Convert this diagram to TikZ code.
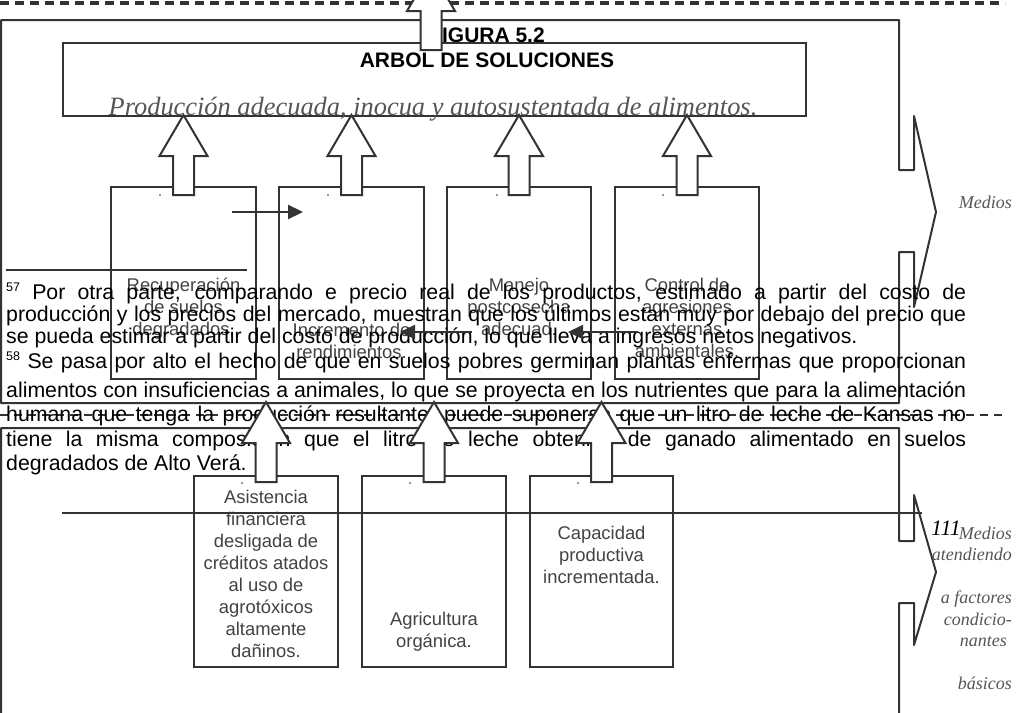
\documentclass[tikz,border=0pt]{standalone}
\usepackage{fontspec}
\setmainfont{Liberation Sans}
\newfontfamily\serifit{Liberation Serif}
\usetikzlibrary{arrows.meta}
\definecolor{ln}{RGB}{51,51,51}
\definecolor{tx}{RGB}{66,66,66}
\definecolor{it}{RGB}{85,85,85}
\newcommand\jl[1]{\hbox to 960pt{#1}}
\newcommand\ctx[1]{\vtop{\baselineskip=22pt\halign{\hfil##\hfil\cr#1\crcr}}}
\newcommand\fnm[1]{{\fontsize{12.5}{12}\selectfont\raisebox{7.5pt}{#1}}}
\begin{document}
\begin{tikzpicture}[x=1pt,y=-1pt,
  frame/.style={draw=ln,line width=2pt,line join=round},
  box/.style={draw=ln,line width=2pt,inner sep=0pt},
  boxtext/.style={text=tx,font=\fontsize{18.4}{22}\selectfont,anchor=base,inner sep=0pt},
  dashline/.style={draw=ln,line width=3.5pt,dash pattern=on 9pt off 6pt},
  harrow/.style={draw=ln,line width=2.2pt,-{Triangle[length=15pt,width=14pt]}},
  blk/.style={draw=ln,line width=2pt,fill=white,line join=miter},
  fn/.style={anchor=base west,inner sep=0pt,font=\fontsize{21.3}{24.4}\selectfont},
  side/.style={text=it,font=\serifit\itshape\fontsize{18}{21.5}\selectfont,inner sep=0pt},
  dotm/.style={fill=ln,circle,inner sep=0pt,minimum size=1.6pt},
  pics/uparrow/.style={code={\path[blk] (-10.5,0) -- (-10.5,-39) -- (-24,-39) -- (0,-80) -- (24,-39) -- (10.5,-39) -- (10.5,0) -- cycle;}}
]
\useasboundingbox (0,0) rectangle (1025,712);
\clip (0,0) rectangle (1025,712);

% page-break dashed lines
\draw[dashline] (0,3) -- (1005,3);
\draw[dashline,line width=2.6pt,dash pattern=on 8pt off 6pt] (0,415) -- (1005,415);

% frames with braces
\draw[frame] (1,403) -- (1,20) -- (899,20) -- (899,170) -- (914,170) -- (914,116) -- (936,212) -- (914,307) -- (914,252) -- (899,252) -- (899,403) -- cycle;
\draw[frame] (1,720) -- (1,428) -- (899,428) -- (899,541) -- (914,541) -- (914,495) -- (936,572) -- (914,645) -- (914,603) -- (899,603) -- (899,720);

% title
\node[font=\bfseries\fontsize{21}{24}\selectfont,anchor=base,inner sep=0pt] (fig) at (487,42) {FIGURA 5.2};
\node[font=\bfseries\fontsize{21}{24}\selectfont,anchor=base,inner sep=0pt] (arb) at (487,67) {ARBOL DE SOLUCIONES};

% goal box
\node[box,minimum width=743pt,minimum height=73pt] (goal) at (434.5,79.5) {};
\node[text=it,font=\serifit\itshape\fontsize{26.4}{30}\selectfont,anchor=base,inner sep=0pt] (prod) at (433,115) {Producción adecuada, inocua y autosustentada de alimentos.};

% upper boxes
\node[box,minimum width=145pt,minimum height=192pt] (b1) at (183.5,283) {};
\node[box,minimum width=145pt,minimum height=192pt] (b2) at (351.5,283) {};
\node[box,minimum width=144pt,minimum height=192pt] (b3) at (519,283) {};
\node[box,minimum width=144pt,minimum height=192pt] (b4) at (687,283) {};
\node[boxtext] (t1) at (183.5,291) {\ctx{Recuperación\cr de suelos\cr degradados.}};
\node[boxtext] (t2) at (351.5,336) {\ctx{Incremento de\cr rendimientos.}};
\node[boxtext] (t3) at (519,291) {\ctx{Manejo\cr postcosecha\cr adecuad.}};
\node[boxtext] (t4) at (687,291) {\ctx{Control de\cr agresiones\cr externas\cr ambientales.}};
\node[dotm] (d1) at (160,195) {};
\node[dotm] (d2) at (328,195) {};
\node[dotm] (d3) at (497,195) {};
\node[dotm] (d4) at (663,195) {};

% lower boxes
\node[box,minimum width=144pt,minimum height=191pt] (c1) at (266,571.5) {};
\node[box,minimum width=144pt,minimum height=191pt] (c2) at (434,571.5) {};
\node[box,minimum width=143pt,minimum height=191pt] (c3) at (601.5,571.5) {};
\node[boxtext] (u1) at (266,503) {\ctx{Asistencia\cr financiera\cr desligada de\cr créditos atados\cr al uso de\cr agrotóxicos\cr altamente\cr dañinos.}};
\node[boxtext] (u2) at (434,625) {\ctx{Agricultura\cr orgánica.}};
\node[boxtext] (u3) at (601.5,539) {\ctx{Capacidad\cr productiva\cr incrementada.}};
\node[dotm] (e1) at (242,483) {};
\node[dotm] (e2) at (410,483) {};
\node[dotm] (e3) at (578,483) {};

% footnotes
\draw[ln,line width=2pt] (6,270) -- (247,270);
\node[fn] (fnA) at (6,299) {\vtop{\baselineskip=22pt
\jl{\fnm{57} Por otra parte, comparando e precio real de los productos, estimado a partir del costo de}
\jl{producción y los precios del mercado, muestran que los últimos estan muy por debajo del precio que}
\hbox{se pueda estimar a partir del costo de producción, lo que lleva a ingresos netos negativos.}}};
\node[fn] (fnB) at (6,368) {\vtop{\baselineskip=24.6pt
\jl{\fnm{58} Se pasa por alto el hecho de que en suelos pobres germinan plantas enfermas que proporcionan}
\vskip4.5pt
\jl{alimentos con insuficiencias a animales, lo que se proyecta en los nutrientes que para la alimentación}
\jl{humana que tenga la producción resultante, puede suponerse que un litro de leche de Kansas no}
\jl{tiene la misma composición que el litro de leche obtenido de ganado alimentado en suelos}
\hbox{degradados de Alto Verá.}}};

% block arrows
\pic at (431,50) {uparrow};
\pic at ([yshift=-9pt]b1.north) {uparrow};
\pic at ([yshift=-9pt]b2.north) {uparrow};
\pic at ([yshift=-9pt]b3.north) {uparrow};
\pic at ([yshift=-9pt]b4.north) {uparrow};
\pic at ([yshift=-7pt]c1.north) {uparrow};
\pic at ([yshift=-7pt]c2.north) {uparrow};
\pic at ([yshift=-7pt]c3.north) {uparrow};

% small arrows
\coordinate (h1s) at (232,212); \coordinate (h1e) at (303,212);
\coordinate (h2s) at (472,332); \coordinate (h2e) at (400,332);
\coordinate (h3s) at (638,332); \coordinate (h3e) at (568,332);
\draw[harrow] (h1s) -- (h1e);
\draw[harrow] (h2s) -- (h2e);
\draw[harrow] (h3s) -- (h3e);

% rule and page number
\coordinate (r1) at (62,513); \coordinate (r2) at (922,513);
\draw[ln,line width=1.6pt] (r1) -- (r2);
\node[font=\serifit\itshape\fontsize{22}{26}\selectfont,anchor=base west,inner sep=0pt] (pg) at (931,535) {111};

% side labels
\node[side,anchor=base east] (m1) at (1012,208) {Medios};
\node[side,anchor=base east] (m2) at (1012,539) {\vtop{\baselineskip=21.5pt\halign{\hfil#\cr Medios\cr atendiendo\cr\cr a factores\cr condicio-\cr nantes\hspace{5pt}\cr\cr básicos\cr}}};
\end{tikzpicture}
\end{document}
